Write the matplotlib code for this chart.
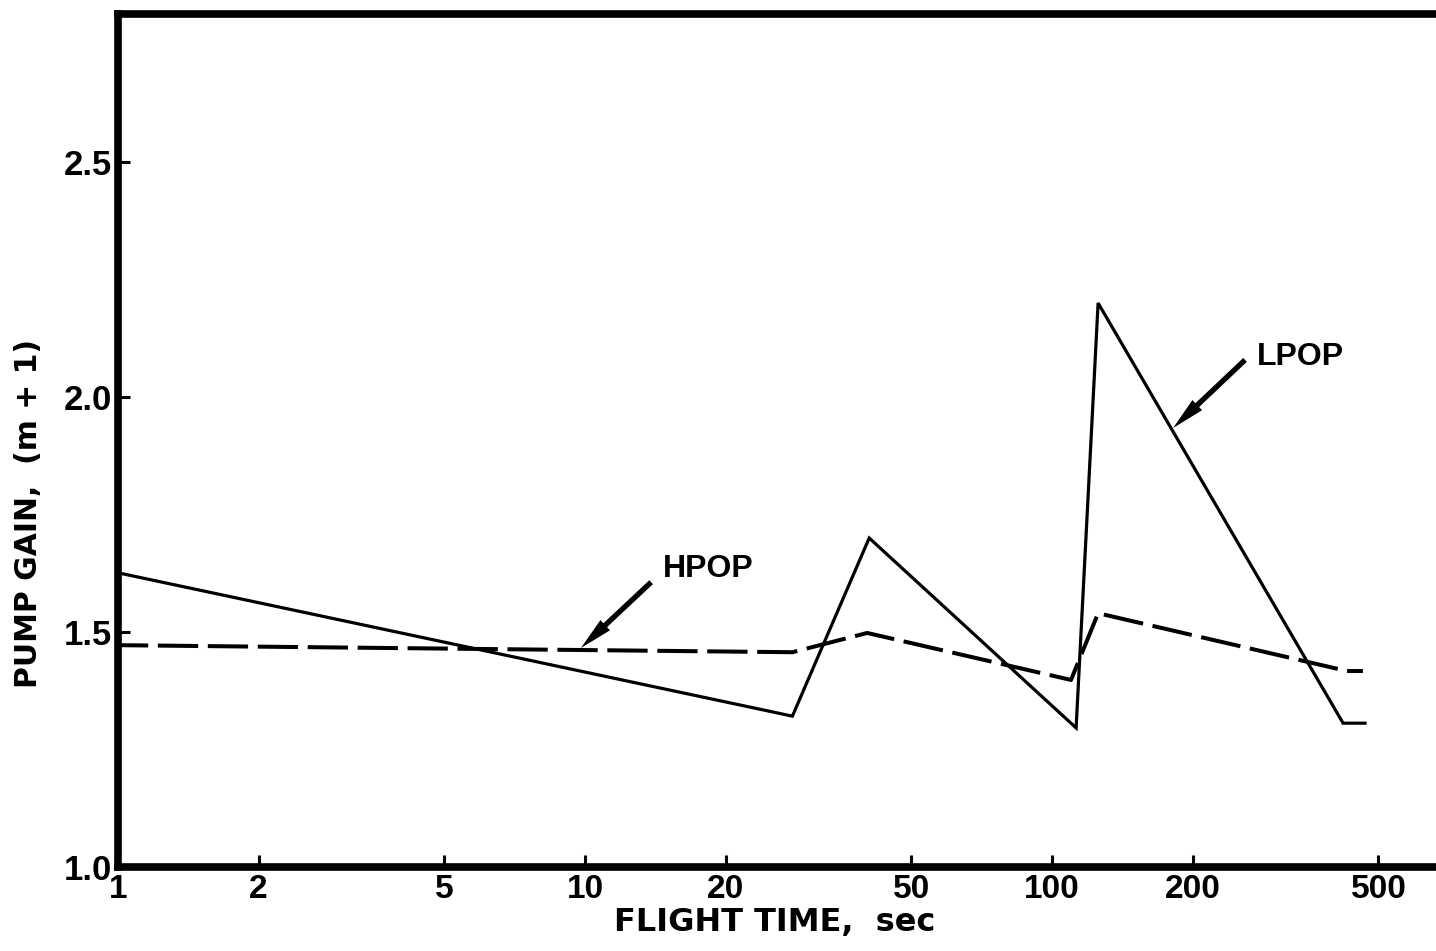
import matplotlib
matplotlib.use('Agg')
import matplotlib.pyplot as plt

matplotlib.rcParams['font.family'] = ['Liberation Sans', 'DejaVu Sans']
matplotlib.rcParams['font.weight'] = 'bold'

# flight time (s) and pump gain (m + 1) at the break points of each curve
lpop_time = [1.0, 27.8, 40.6, 112.6, 125.5, 420.0, 468.0]
lpop_gain = [1.626, 1.321, 1.700, 1.296, 2.200, 1.306, 1.306]

hpop_time = [1.0, 27.8, 40.2, 109.8, 125.5, 428.0, 463.0]
hpop_gain = [1.472, 1.457, 1.498, 1.398, 1.540, 1.417, 1.417]

xticks = [1, 2, 5, 10, 20, 50, 100, 200, 500]
yticks = [1.0, 1.5, 2.0, 2.5]

fig = plt.figure(figsize=(14.36, 9.51), dpi=100)
ax = fig.add_axes([118 / 1436, 84 / 951, 1 - 118 / 1436, 853 / 951])

ax.plot(lpop_time, lpop_gain, color='black', lw=2.3, solid_joinstyle='miter')
ax.plot(hpop_time, hpop_gain, color='black', lw=2.9,
        linestyle=(2.5, (10, 2.4)))

ax.set_xscale('log')
ax.set_xlim(1, 664)
ax.set_ylim(1.0, 2.815)

ax.set_xticks(xticks)
ax.set_xticklabels([str(t) for t in xticks])
ax.set_xticks([], minor=True)
ax.set_yticks(yticks)
ax.set_yticklabels([f'{t:.1f}' for t in yticks])

ax.tick_params(direction='in', length=8.5, width=2.2)
ax.tick_params(axis='x', pad=5, labelsize=24)
ax.tick_params(axis='y', pad=4, labelsize=25)

for side in ['left', 'bottom', 'top']:
    ax.spines[side].set_linewidth(5.5)
ax.spines['right'].set_visible(False)

# curve labels with pointer arrows (filled outline, no stroke)
arrow = dict(arrowstyle='simple,head_length=1.0,head_width=0.42,tail_width=0.16',
             fc='black', ec='none', lw=0, shrinkA=0, shrinkB=0, mutation_scale=24)
ax.annotate('', xy=(9.80, 1.466), xytext=(13.85, 1.606), arrowprops=arrow)
ax.text(14.7, 1.634, 'HPOP', fontsize=23, fontweight='bold', va='center', ha='left')
ax.annotate('', xy=(181.6, 1.934), xytext=(259, 2.079), arrowprops=arrow)
ax.text(275, 2.085, 'LPOP', fontsize=23, fontweight='bold', va='center', ha='left')

fig.text(775 / 1436, 1 - 923 / 951, 'FLIGHT TIME,  sec', fontsize=23,
         fontweight='bold', family='DejaVu Sans', ha='center', va='center')
fig.text(29 / 1436, 1 - 513 / 951, 'PUMP GAIN,  (m + 1)', fontsize=21.5,
         fontweight='bold', family='DejaVu Sans', ha='center', va='center',
         rotation=90)

fig.savefig('out.png', dpi=100)
